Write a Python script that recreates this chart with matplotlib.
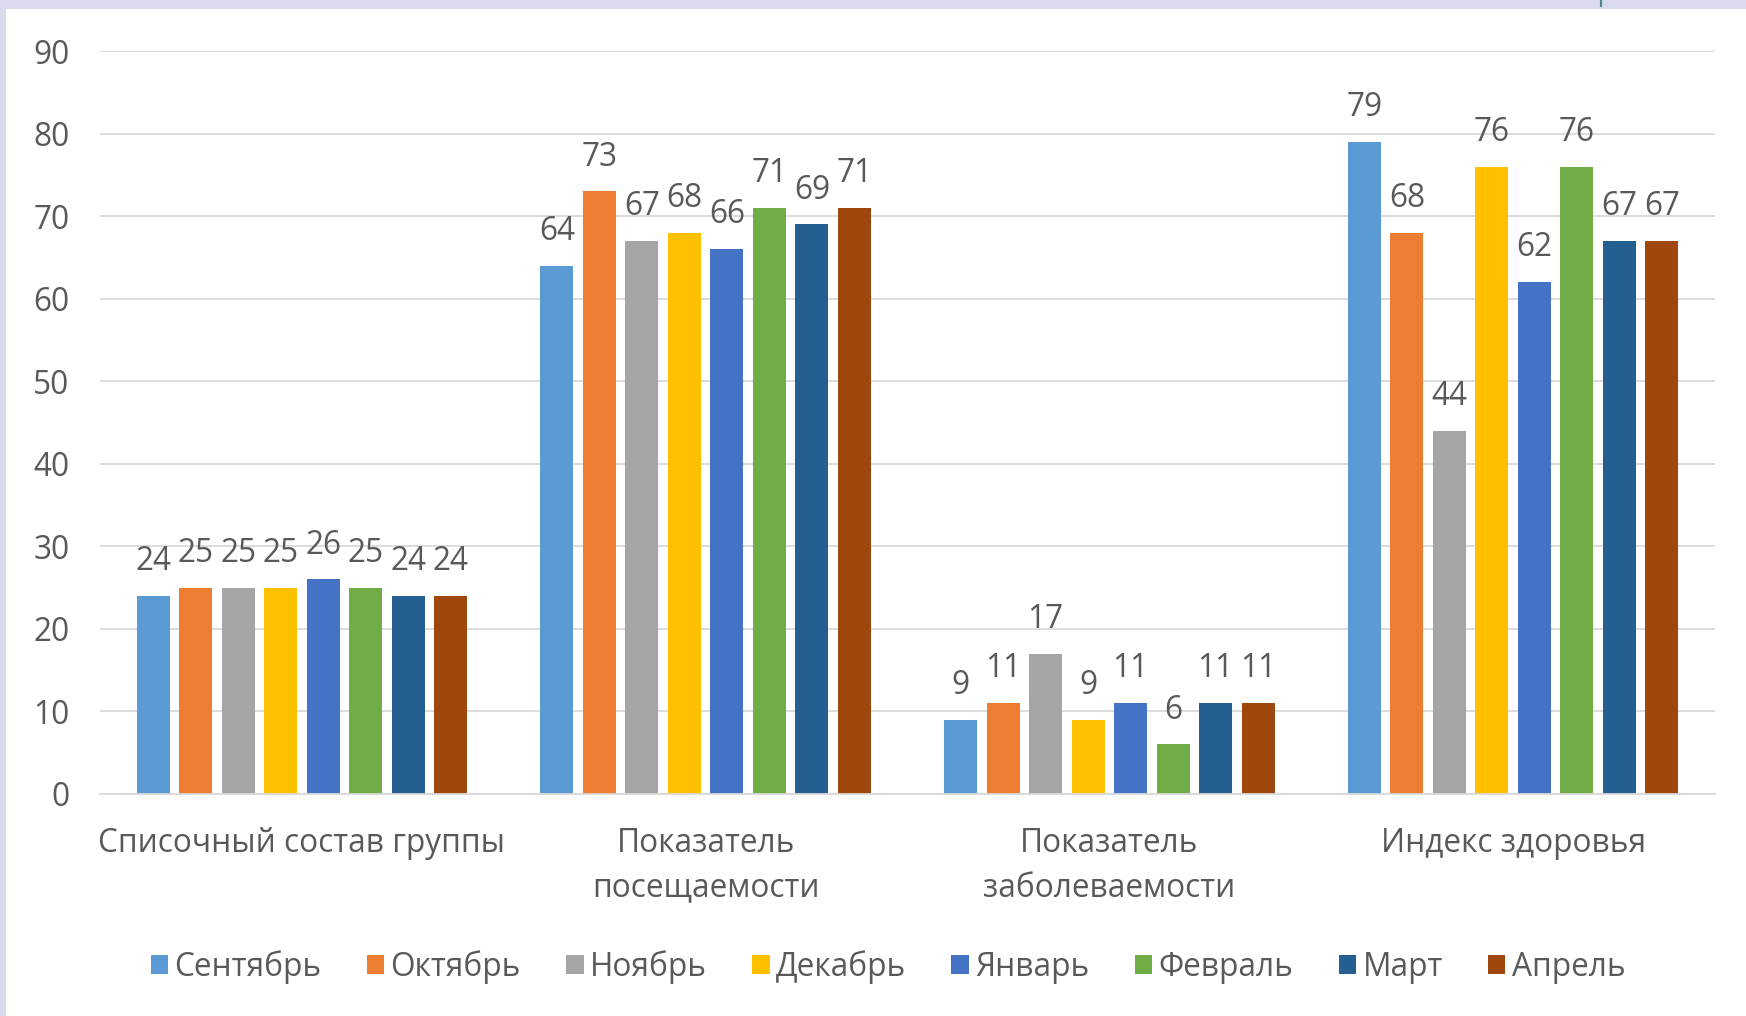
import matplotlib
matplotlib.use("Agg")
import matplotlib.pyplot as plt
import numpy as np
from matplotlib.patches import Rectangle
from matplotlib.lines import Line2D

categories = ["Списочный состав группы", "Показатель\nпосещаемости",
              "Показатель\nзаболеваемости", "Индекс здоровья"]
months = ["Сентябрь", "Октябрь", "Ноябрь", "Декабрь", "Январь", "Февраль", "Март", "Апрель"]
sentyabr = [24, 64, 9, 79]
oktyabr = [25, 73, 11, 68]
noyabr = [25, 67, 17, 44]
dekabr = [25, 68, 9, 76]
yanvar = [26, 66, 11, 62]
fevral = [25, 71, 6, 76]
mart = [24, 69, 11, 67]
aprel = [24, 71, 11, 67]
series = [sentyabr, oktyabr, noyabr, dekabr, yanvar, fevral, mart, aprel]
colors = ["#5B9BD5", "#ED7D31", "#A5A5A5", "#FFC000", "#4472C4", "#70AD47", "#255E91", "#9E480E"]
yticks = [0, 10, 20, 30, 40, 50, 60, 70, 80, 90]

plt.rcParams['font.family'] = ['Open Sans', 'DejaVu Sans']
TXT = "#595959"
FS = 22.8

W, H = 1746, 1016
fig = plt.figure(figsize=(W / 100, H / 100), dpi=100)
fig.patch.set_facecolor("white")

# frame bands
fig.patches.append(Rectangle((0, 1 - 9 / H), 1, 9 / H, transform=fig.transFigure,
                             facecolor="#D9DAEC", edgecolor="none", zorder=0))
fig.patches.append(Rectangle((0, 0), 6 / W, 1, transform=fig.transFigure,
                             facecolor="#D9DAEC", edgecolor="none", zorder=0))
fig.lines.append(Line2D([1601 / W, 1601 / W], [1 - 6 / H, 1], transform=fig.transFigure,
                        color="#4A8A8A", lw=1.5))

ax = fig.add_axes([100 / W, 1 - 794 / H, (1715 - 100) / W, (794 - 51) / H])
x = np.arange(len(categories))
slot = 42.5 / 403.7
bw = 33 / 403.7
for i, (vals, col, name) in enumerate(zip(series, colors, months)):
    pos = x + (i - 3.5) * slot
    ax.bar(pos, vals, width=bw, color=col, label=name, zorder=2)
    for p, v in zip(pos, vals):
        ax.annotate(str(v), (p, v), xytext=(0, 18.5), textcoords="offset points",
                    ha="center", va="baseline", fontsize=FS, color=TXT)

ax.set_xlim(-0.5, 3.5)
ax.set_ylim(0, 90)
ax.set_yticks(yticks)
ax.set_yticklabels([str(t) for t in yticks])
ax.yaxis.grid(True, color="#D9D9D9", lw=1.3, zorder=0)
ax.set_axisbelow(True)
for s in ["top", "right", "left"]:
    ax.spines[s].set_visible(False)
ax.spines["bottom"].set_color("#D9D9D9")
ax.spines["bottom"].set_linewidth(1.3)
ax.tick_params(axis="y", length=0, pad=22, labelsize=FS, labelcolor=TXT)
ax.tick_params(axis="x", length=0, pad=24, labelsize=FS, labelcolor=TXT)
ax.set_xticks(x)
ax.set_xticklabels(categories, linespacing=1.45)

handles = [Rectangle((0, 0), 1, 1, facecolor=c, edgecolor="none") for c in colors]
fig.legend(handles, months, loc="center", bbox_to_anchor=(888 / W, 1 - 967 / H), ncol=8,
           frameon=False, fontsize=FS, labelcolor=TXT, handlelength=0.55, handleheight=0.55,
           handletextpad=0.2, columnspacing=1.43, borderaxespad=0)

fig.savefig("out.png", dpi=100, facecolor="white")
